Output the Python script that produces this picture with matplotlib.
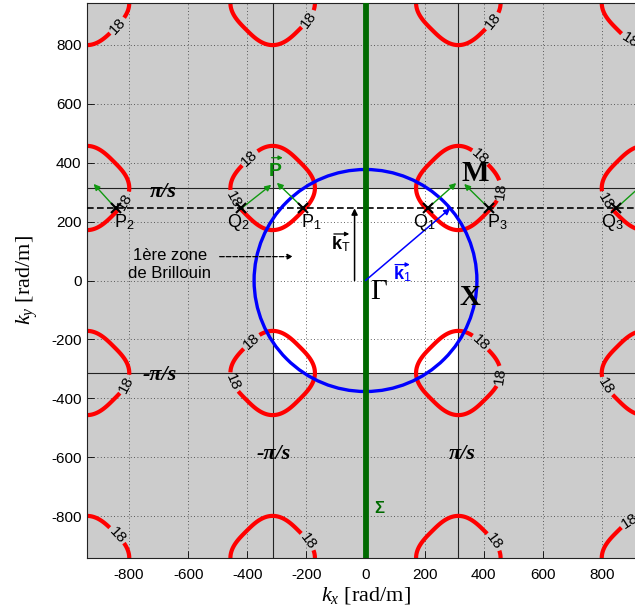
import numpy as np
import matplotlib
matplotlib.use('Agg')
import matplotlib.pyplot as plt
from matplotlib.patches import Rectangle, Circle

plt.rcParams['font.family'] = ['Liberation Sans', 'DejaVu Sans']
plt.rcParams['mathtext.fontset'] = 'custom'
plt.rcParams['mathtext.rm'] = 'Liberation Sans'
plt.rcParams['mathtext.it'] = 'Liberation Serif:italic'
plt.rcParams['mathtext.bf'] = 'Liberation Sans:bold'
plt.rcParams['axes.unicode_minus'] = False

# lattice and iso-frequency contour
s = 0.01                  # period [m]
zone = np.pi / s          # pi/s
k_lim = 3 * zone
level = 18                # contour level
loop_r = 143              # half width of the 18-contour loops around M points [rad/m]
loop_q = 3.0              # squareness of the (45 deg rotated) loops

# incident wave
k0 = 377                  # radius of blue circle [rad/m]
k1 = (287, 245)           # incident wave vector
kT = 245                  # transverse component (dashed line)
kT_x = -37                # x position of k_T arrow

# points on the dashed line
p_names = ['P1', 'P2', 'P3']
p_kx = [-210, -845, 418]
p_tips = [(-300, 332), (-920, 328), (334, 328)]
q_names = ['Q1', 'Q2', 'Q3']
q_kx = [210, -420, 848]
q_tips = [(307, 331), (-319, 325), (942, 330)]

# positions of the "18" labels
label_pos = [(-835, 861), (-190, 885), (-376, 399), (-453, 270), (-815, 270),
             (433, 878), (891, 811), (375, 405), (466, 304), (813, 270),
             (-808, -355), (-369, -226), (-453, -348), (-848, -872), (-206, -895),
             (375, -226), (466, -327), (813, -361), (418, -900), (897, -822)]

ticks = [-800, -600, -400, -200, 0, 200, 400, 600, 800]

fig = plt.figure(figsize=(6.35, 6.16), dpi=100)
ax = fig.add_axes([87 / 635, 58 / 616, 557 / 635, 555 / 616])
ax.set_facecolor('#cccccc')
ax.set_xlim(-k_lim, k_lim)
ax.set_ylim(-k_lim, k_lim)

# first Brillouin zone
ax.add_patch(Rectangle((-zone, -zone), 2 * zone, 2 * zone, facecolor='white',
                       edgecolor='none', zorder=0))
ax.set_axisbelow(True)
ax.grid(True, linestyle=(0, (1, 3)), color='#333333', lw=0.6)
for v in (-zone, zone):
    ax.axhline(v, color='#222222', lw=0.8, zorder=1)
    ax.axvline(v, color='#222222', lw=0.8, zorder=1)

# iso-frequency contour around the M points
kk = np.linspace(-k_lim, k_lim, 1201)
KX, KY = np.meshgrid(kk, kk)
du = np.mod(KX, 2 * zone) - zone
dv = np.mod(KY, 2 * zone) - zone
u = np.abs(du + dv) / np.sqrt(2)
v = np.abs(du - dv) / np.sqrt(2)
c = 2 ** (1 / loop_q) * loop_r / np.sqrt(2)
F = level * (u ** loop_q + v ** loop_q) ** (1 / loop_q) / c
cs = ax.contour(KX, KY, F, levels=[level], colors='red', linewidths=3, zorder=2)
ax.clabel(cs, fmt='%d', manual=label_pos, fontsize=11, colors='black',
          inline=True, inline_spacing=2)

ax.axhline(kT, color='black', lw=1.2, dashes=(4, 2), zorder=3)
ax.add_patch(Circle((0, 0), k0, fill=False, ec='blue', lw=2.4, zorder=3))
ax.plot([0, 0], [-k_lim, k_lim], color='#006a00', lw=4.2, zorder=4)

# vectors
arr = dict(arrowstyle='-|>', mutation_scale=9, shrinkA=0, shrinkB=0)
ax.annotate('', xy=k1, xytext=(0, 0), arrowprops=dict(arr, color='blue', lw=1.1), zorder=5)
ax.annotate('', xy=(kT_x, kT), xytext=(kT_x, 0), arrowprops=dict(arr, color='black', lw=1.1), zorder=5)
for x0, tip in zip(p_kx + q_kx, p_tips + q_tips):
    ax.annotate('', xy=tip, xytext=(x0, kT), arrowprops=dict(arr, color='#119911', lw=1.0), zorder=5)
ax.plot(p_kx + q_kx, [kT] * 6, 'x', color='black', ms=7, mew=1.5, zorder=6)

for name, x0 in zip(p_names, p_kx):
    ax.text(x0 + 28, 232, r'$\mathrm{%s}_{\mathrm{%s}}$' % (name[0], name[1]),
            fontsize=13, ha='center', va='top', zorder=6)
for name, x0 in zip(q_names, q_kx):
    ax.text(x0 - 12, 232, r'$\mathrm{%s}_{\mathrm{%s}}$' % (name[0], name[1]),
            fontsize=13, ha='center', va='top', zorder=6)

# labels with vector arrows
small = dict(arrowstyle='-|>', mutation_scale=6, shrinkA=0, shrinkB=0, lw=0.9)
ax.text(-84, 122, r'$\mathbf{k}_{\mathrm{T}}$', fontsize=13, ha='center', va='center')
ax.annotate('', xy=(-55, 158), xytext=(-107, 158), arrowprops=dict(small, color='black'))
ax.text(125, 20, r'$\mathbf{k}_{\mathrm{1}}$', fontsize=13, ha='center', va='center', color='blue')
ax.annotate('', xy=(150, 54), xytext=(100, 54), arrowprops=dict(small, color='blue'))
ax.text(-305, 370, 'P', fontsize=14, fontweight='bold', ha='center', va='center', color='#0a8a0a')
ax.annotate('', xy=(-280, 417), xytext=(-318, 417), arrowprops=dict(small, color='#0a8a0a'))
ax.text(45, -775, 'Σ', fontsize=12, fontweight='bold', ha='center', va='center', color='#006a00')

serif = ['Liberation Serif', 'DejaVu Serif']
ax.text(45, -40, 'Γ', fontsize=21, family=serif, ha='center', va='center')
ax.text(352, -58, 'X', fontsize=21, family=serif, fontweight='bold', ha='center', va='center')
ax.text(372, 363, 'M', fontsize=21, family=serif, fontweight='bold', ha='center', va='center')
pis = dict(fontsize=16, family=serif, fontweight='bold', style='italic', ha='center', va='center')
ax.text(-683, 300, 'π/s', **pis)
ax.text(-697, -322, '-π/s', **pis)
ax.text(-311, -590, '-π/s', **pis)
ax.text(328, -590, 'π/s', **pis)

ax.text(-663, 55, '1ère zone\nde Brillouin', fontsize=12, ha='center', va='center', linespacing=1.3)
ax.annotate('', xy=(-236, 81), xytext=(-503, 81),
            arrowprops=dict(arrowstyle='-|>', mutation_scale=8, lw=0.9, ls='--', color='black'))

ax.set_xticks(ticks)
ax.set_yticks(ticks)
ax.tick_params(direction='in', length=5, labelsize=11, width=0.6)
ax.tick_params(axis='x', pad=7)
ax.tick_params(axis='y', pad=4)
for sp in ax.spines.values():
    sp.set_color('#222222')
    sp.set_linewidth(0.8)

ax.set_xlabel(r'$k_x$ [rad/m]', family=serif, fontsize=16, labelpad=2)
ax.set_ylabel(r'$k_y$ [rad/m]', family=serif, fontsize=16, labelpad=8)

fig.savefig('out.png', dpi=100)
